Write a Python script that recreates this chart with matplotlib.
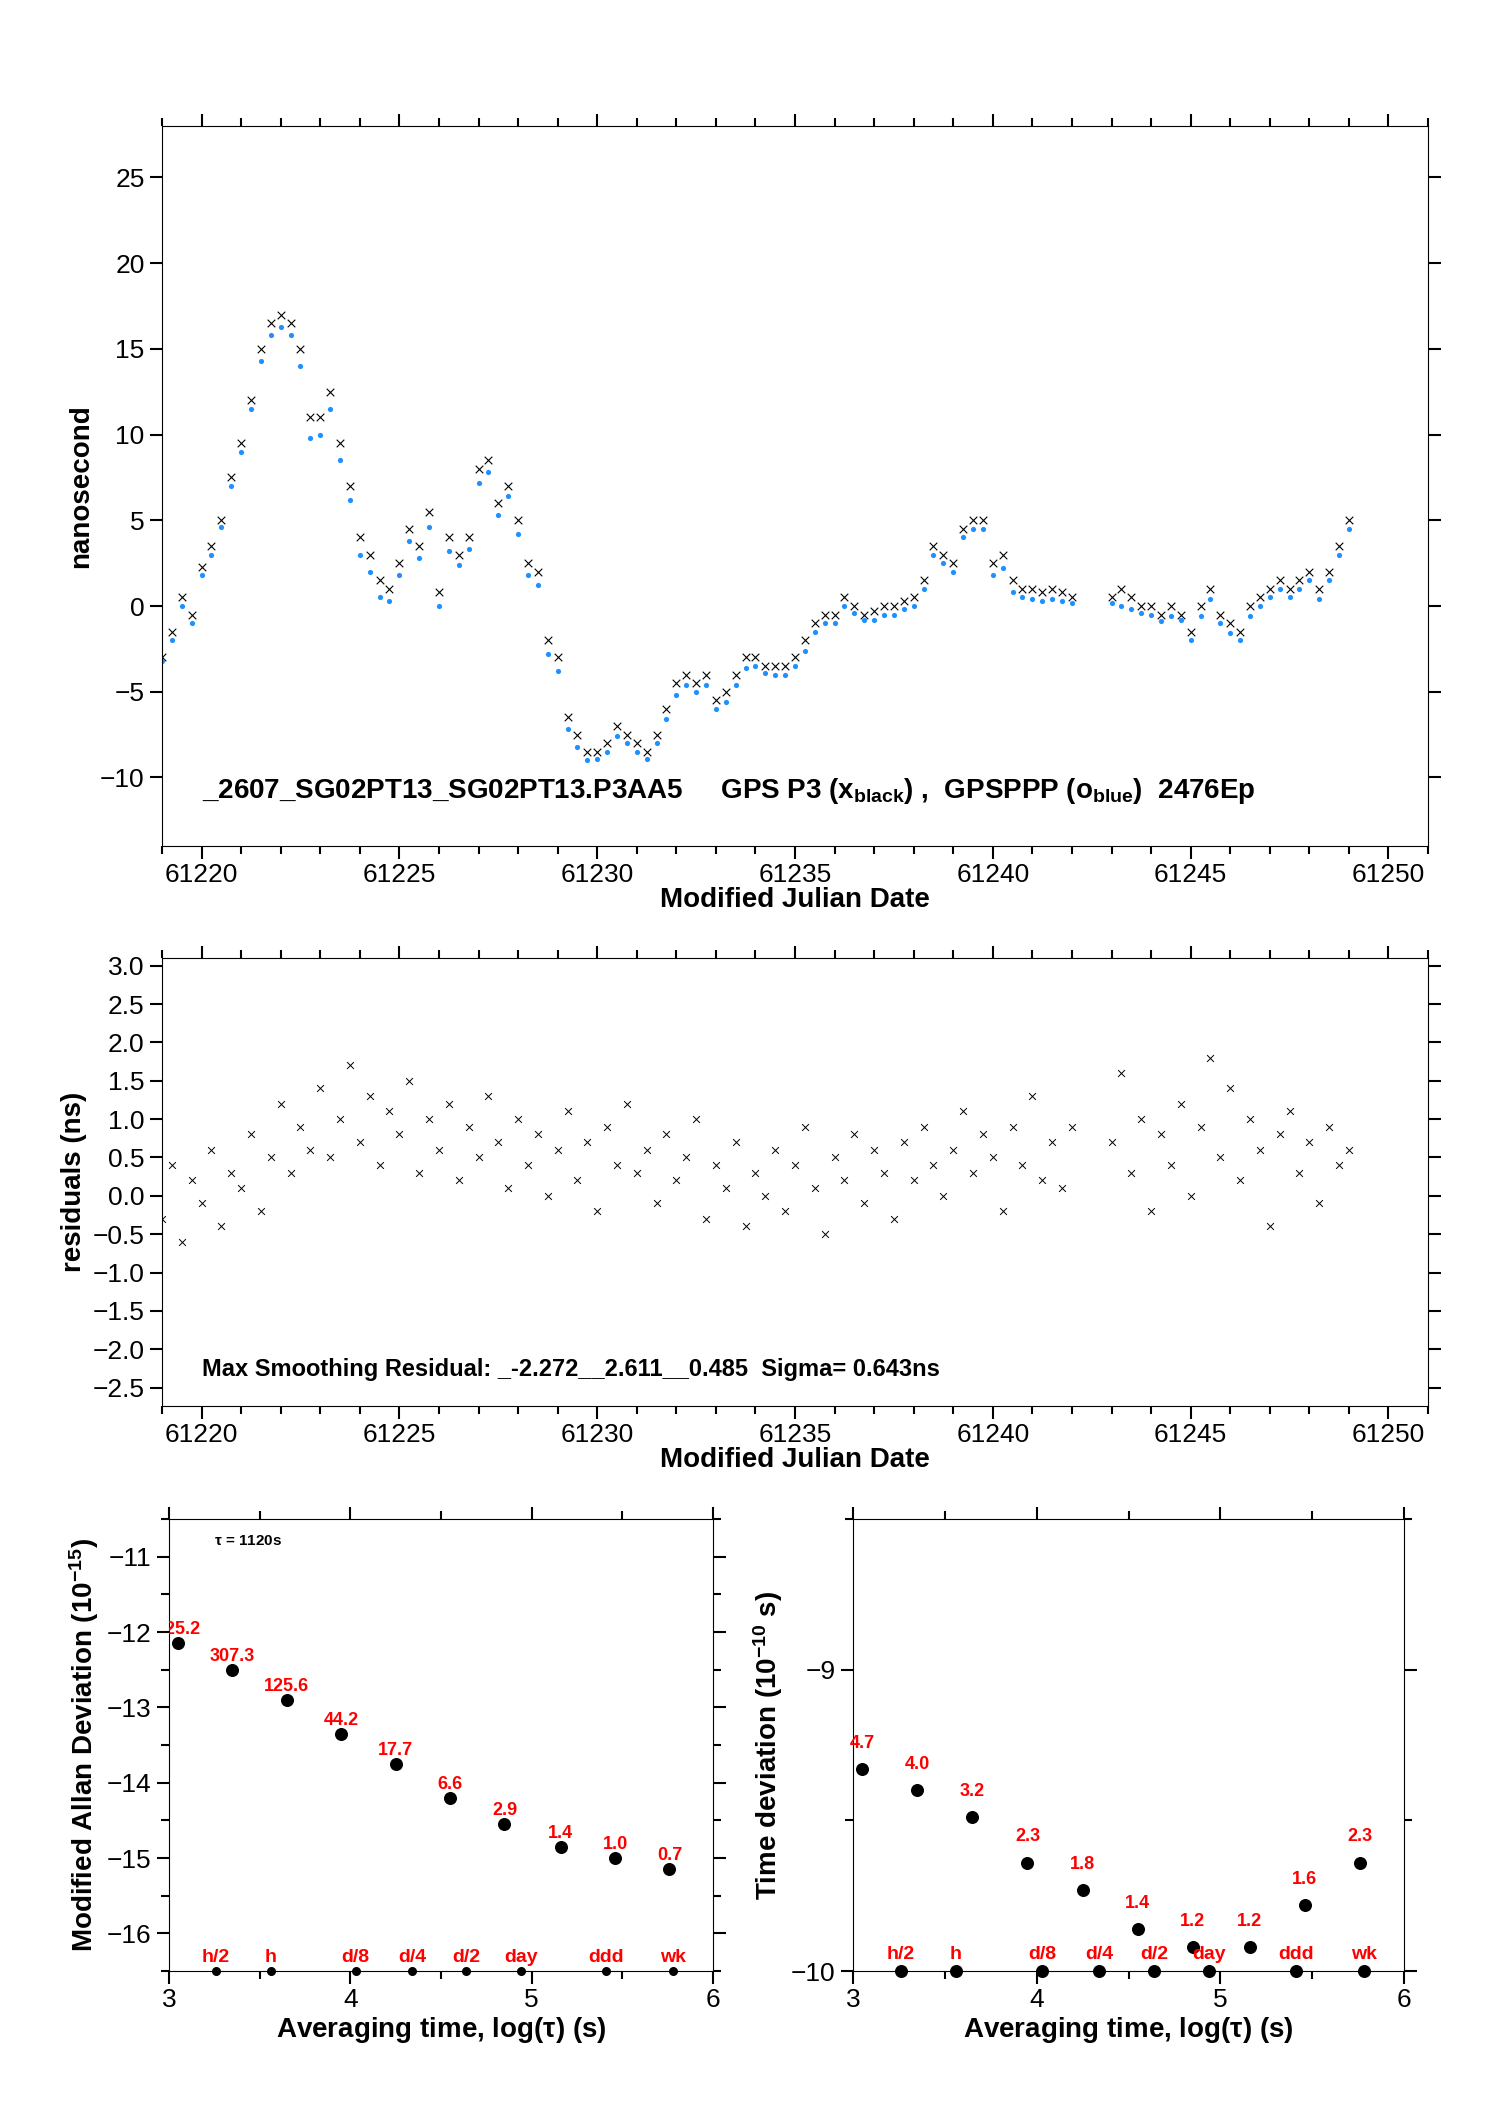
import numpy as np
import matplotlib.pyplot as plt
from matplotlib.ticker import MultipleLocator

plt.rcParams['font.family'] = ['Liberation Sans', 'DejaVu Sans']
plt.rcParams['mathtext.fontset'] = 'custom'
plt.rcParams['mathtext.rm'] = 'Liberation Sans:bold'
plt.rcParams['mathtext.it'] = 'Liberation Sans:bold'

# ---- time series (MJD grid, 0.25 day) ----
mjd_a = np.arange(61219.0, 61242.01, 0.25)
mjd_b = np.arange(61243.0, 61249.01, 0.25)

p3_a = [-3, -1.5, 0.5, -0.5, 2.3, 3.5, 5, 7.5, 9.5, 12, 15, 16.5,
        17, 16.5, 15, 11, 11, 12.5, 9.5, 7, 4, 3, 1.5, 1,
        2.5, 4.5, 3.5, 5.5, 0.8, 4, 3, 4, 8, 8.5, 6, 7,
        5, 2.5, 2, -2, -3, -6.5, -7.5, -8.5, -8.5, -8, -7, -7.5,
        -8, -8.5, -7.5, -6, -4.5, -4, -4.5, -4, -5.5, -5, -4, -3,
        -3, -3.5, -3.5, -3.5, -3, -2, -1, -0.5, -0.5, 0.5, 0, -0.5,
        -0.3, 0, 0, 0.3, 0.5, 1.5, 3.5, 3, 2.5, 4.5, 5, 5,
        2.5, 3, 1.5, 1, 1, 0.8, 1, 0.8, 0.5]
p3_b = [0.5, 1, 0.5, 0, 0, -0.5, 0, -0.5, -1.5, 0, 1, -0.5,
        -1, -1.5, 0, 0.5, 1, 1.5, 1, 1.5, 2, 1, 2, 3.5, 5]

ppp_a = [-3.2, -2.0, 0.0, -1.0, 1.8, 3.0, 4.6, 7.0, 9.0, 11.5, 14.3, 15.8,
         16.3, 15.8, 14.0, 9.8, 10.0, 11.5, 8.5, 6.2, 3.0, 2.0, 0.5, 0.3,
         1.8, 3.8, 2.8, 4.6, 0.0, 3.2, 2.4, 3.3, 7.2, 7.8, 5.3, 6.4,
         4.2, 1.8, 1.2, -2.8, -3.8, -7.2, -8.2, -9.0, -8.9, -8.5, -7.6, -8.0,
         -8.5, -8.9, -8.0, -6.6, -5.2, -4.6, -5.0, -4.6, -6.0, -5.6, -4.6, -3.6,
         -3.5, -3.9, -4.0, -4.0, -3.5, -2.6, -1.5, -1.0, -1.0, 0.0, -0.4, -0.8,
         -0.8, -0.5, -0.5, -0.2, 0.0, 1.0, 3.0, 2.5, 2.0, 4.0, 4.5, 4.5,
         1.8, 2.2, 0.8, 0.5, 0.4, 0.3, 0.4, 0.3, 0.2]
ppp_b = [0.2, 0.0, -0.2, -0.4, -0.5, -0.9, -0.6, -0.8, -2.0, -0.6, 0.4, -1.0,
         -1.6, -2.0, -0.6, 0.0, 0.5, 1.0, 0.5, 1.0, 1.5, 0.4, 1.5, 3.0, 4.5]

resid_a = [-0.3, 0.4, -0.6, 0.2, -0.1, 0.6, -0.4, 0.3, 0.1, 0.8, -0.2, 0.5,
           1.2, 0.3, 0.9, 0.6, 1.4, 0.5, 1.0, 1.7, 0.7, 1.3, 0.4, 1.1,
           0.8, 1.5, 0.3, 1.0, 0.6, 1.2, 0.2, 0.9, 0.5, 1.3, 0.7, 0.1,
           1.0, 0.4, 0.8, 0.0, 0.6, 1.1, 0.2, 0.7, -0.2, 0.9, 0.4, 1.2,
           0.3, 0.6, -0.1, 0.8, 0.2, 0.5, 1.0, -0.3, 0.4, 0.1, 0.7, -0.4,
           0.3, 0.0, 0.6, -0.2, 0.4, 0.9, 0.1, -0.5, 0.5, 0.2, 0.8, -0.1,
           0.6, 0.3, -0.3, 0.7, 0.2, 0.9, 0.4, 0.0, 0.6, 1.1, 0.3, 0.8,
           0.5, -0.2, 0.9, 0.4, 1.3, 0.2, 0.7, 0.1, 0.9]
resid_b = [0.7, 1.6, 0.3, 1.0, -0.2, 0.8, 0.4, 1.2, 0.0, 0.9, 1.8, 0.5,
           1.4, 0.2, 1.0, 0.6, -0.4, 0.8, 1.1, 0.3, 0.7, -0.1, 0.9, 0.4, 0.6]

# ---- stability ----
log_tau = [3.05, 3.35, 3.65, 3.95, 4.25, 4.55, 4.85, 5.16, 5.46, 5.76]
mdev = [-12.15, -12.5, -12.9, -13.35, -13.75, -14.2, -14.55, -14.85, -15.0, -15.15]
mdev_lbl = ['425.2', '307.3', '125.6', '44.2', '17.7', '6.6', '2.9', '1.4', '1.0', '0.7']
tdev = [-9.33, -9.40, -9.49, -9.64, -9.73, -9.86, -9.92, -9.92, -9.78, -9.64]
tdev_lbl = ['4.7', '4.0', '3.2', '2.3', '1.8', '1.4', '1.2', '1.2', '1.6', '2.3']
mark_x = [3.26, 3.56, 4.03, 4.34, 4.64, 4.94, 5.41, 5.78]
mark_lbl = ['h/2', 'h', 'd/8', 'd/4', 'd/2', 'day', 'ddd', 'wk']

FS = 19
fig = plt.figure(figsize=(14.88, 21.05), dpi=100)
W, H = 1488, 2105


def add_ax(x0, y0, x1, y1):
    return fig.add_axes([x0 / W, 1 - y1 / H, (x1 - x0) / W, (y1 - y0) / H])


def style(ax):
    ax.tick_params(which='both', direction='out', top=True, right=True,
                   labelsize=FS, width=1.5)
    ax.tick_params(which='major', length=9)
    ax.tick_params(which='minor', length=6)


# top panel
ax1 = add_ax(162, 126, 1428, 846)
ax1.scatter(mjd_a, p3_a, marker='x', s=30, c='black', lw=0.8)
ax1.scatter(mjd_b, p3_b, marker='x', s=30, c='black', lw=0.8)
ax1.scatter(mjd_a, ppp_a, marker='o', s=14, c='#1e90ff', lw=0)
ax1.scatter(mjd_b, ppp_b, marker='o', s=14, c='#1e90ff', lw=0)
ax1.set_xlim(61219, 61251)
ax1.set_ylim(-14, 28)
ax1.xaxis.set_major_locator(MultipleLocator(5))
ax1.xaxis.set_minor_locator(MultipleLocator(1))
ax1.set_yticks([-10, -5, 0, 5, 10, 15, 20, 25])
style(ax1)
ax1.set_xlabel('Modified Julian Date', fontsize=20, fontweight='bold', labelpad=0)
ax1.set_ylabel('nanosecond', fontsize=20, fontweight='bold')
ax1.text(61220, -11.2,
         r'_2607_SG02PT13_SG02PT13.P3AA5     GPS P3 (x$_{\rm black}$) ,  GPSPPP (o$_{\rm blue}$)  2476Ep',
         fontsize=20, fontweight='bold')

# residual panel
ax2 = add_ax(162, 958, 1428, 1406)
ax2.scatter(mjd_a, resid_a, marker='x', s=24, c='black', lw=0.7)
ax2.scatter(mjd_b, resid_b, marker='x', s=24, c='black', lw=0.7)
ax2.set_xlim(61219, 61251)
ax2.set_ylim(-2.74, 3.1)
ax2.xaxis.set_major_locator(MultipleLocator(5))
ax2.xaxis.set_minor_locator(MultipleLocator(1))
ax2.yaxis.set_major_locator(MultipleLocator(0.5))
ax2.yaxis.set_major_formatter(plt.FuncFormatter(lambda v, p: f'{v:.1f}'.replace('-', '\u2212')))
style(ax2)
ax2.set_xlabel('Modified Julian Date', fontsize=20, fontweight='bold', labelpad=0)
ax2.set_ylabel('residuals (ns)', fontsize=20, fontweight='bold')
ax2.text(61220, -2.35, 'Max Smoothing Residual: _-2.272__2.611__0.485  Sigma= 0.643ns',
         fontsize=17, fontweight='bold')

# modified Allan deviation
ax3 = add_ax(169, 1519, 713, 1971)
ax3.scatter(log_tau, mdev, s=70, c='black')
for x, y, t in zip(log_tau, mdev, mdev_lbl):
    ax3.text(x, y + 0.12, t, color='red', fontsize=13, fontweight='bold',
             ha='center', clip_on=True)
ax3.scatter(mark_x, [-16.5] * len(mark_x), s=30, c='black', clip_on=False)
for x, t in zip(mark_x, mark_lbl):
    ax3.text(x, -16.38, t, color='red', fontsize=14, fontweight='bold', ha='center')
ax3.text(3.25, -10.85, r'$\tau$ = 1120s', fontsize=11, fontweight='bold')
ax3.set_xlim(3, 6)
ax3.set_ylim(-16.5, -10.5)
ax3.xaxis.set_major_locator(MultipleLocator(1))
ax3.xaxis.set_minor_locator(MultipleLocator(0.5))
ax3.yaxis.set_major_locator(MultipleLocator(1))
ax3.yaxis.set_minor_locator(MultipleLocator(0.5))
style(ax3)
ax3.set_xlabel(r'Averaging time, log($\tau$) (s)', fontsize=20, fontweight='bold', labelpad=2)
ax3.set_ylabel(r'Modified Allan Deviation (10$^{-15}$)', fontsize=20, fontweight='bold')

# time deviation
ax4 = add_ax(853, 1519, 1404, 1971)
ax4.scatter(log_tau, tdev, s=70, c='black')
for x, y, t in zip(log_tau, tdev, tdev_lbl):
    ax4.text(x, y + 0.07, t, color='red', fontsize=13, fontweight='bold', ha='center')
ax4.scatter(mark_x, [-10] * len(mark_x), s=70, c='black', clip_on=False)
for x, t in zip(mark_x, mark_lbl):
    ax4.text(x, -9.96, t, color='red', fontsize=14, fontweight='bold', ha='center')
ax4.set_xlim(3, 6)
ax4.set_ylim(-10, -8.5)
ax4.xaxis.set_major_locator(MultipleLocator(1))
ax4.xaxis.set_minor_locator(MultipleLocator(0.5))
ax4.yaxis.set_major_locator(MultipleLocator(1))
ax4.yaxis.set_minor_locator(MultipleLocator(0.5))
style(ax4)
ax4.set_xlabel(r'Averaging time, log($\tau$) (s)', fontsize=20, fontweight='bold', labelpad=2)
ax4.set_ylabel(r'Time deviation (10$^{-10}$ s)', fontsize=20, fontweight='bold')

fig.savefig('out.png', dpi=100)
